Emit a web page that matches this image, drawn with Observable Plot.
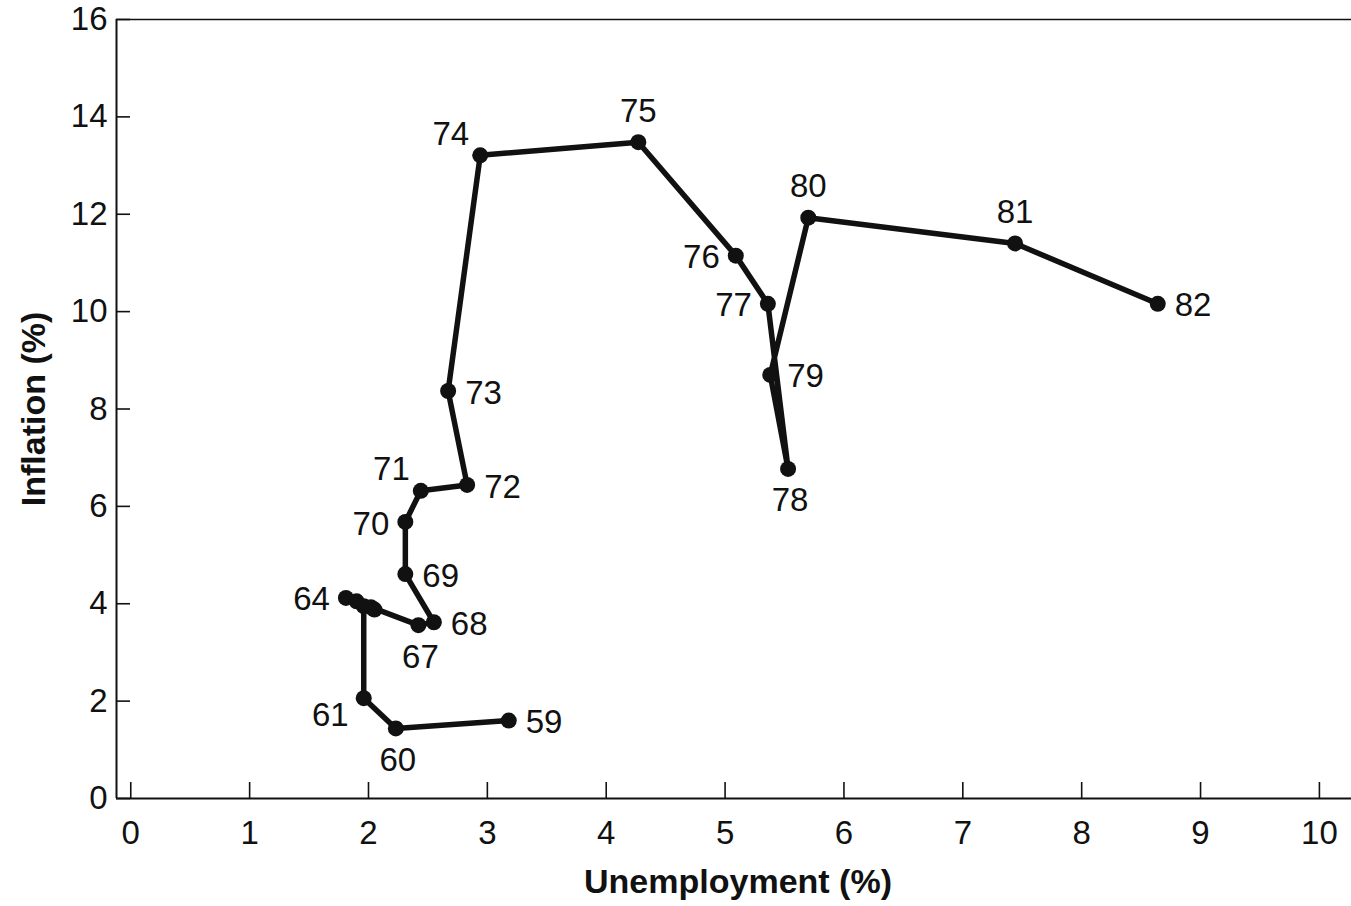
<!DOCTYPE html>
<html><head><meta charset="utf-8">
<script src="https://cdn.jsdelivr.net/npm/d3@7"></script>
<script src="https://cdn.jsdelivr.net/npm/@observablehq/plot@0.6"></script>
<style>body{margin:0;background:#fff} svg{display:block} #chart{width:1351px;height:906px}</style>
</head><body><div id="chart"></div>
<script>
// Years (19xx), unemployment (%) and inflation (%)
const years = [59,60,61,62,63,64,65,66,67,68,69,70,71,72,73,74,75,76,77,78,79,80,81,82];
const unemployment = [3.18,2.23,1.96,1.96,2.05,1.81,1.90,2.02,2.42,2.55,2.31,2.31,2.44,2.83,2.67,2.94,4.27,5.09,5.36,5.53,5.38,5.70,7.44,8.64];
const inflation = [1.60,1.44,2.06,3.95,3.88,4.12,4.05,3.93,3.56,3.62,4.61,5.68,6.32,6.44,8.37,13.21,13.48,11.15,10.16,6.77,8.70,11.93,11.40,10.16];
// which side of the point each year label sits on ("" = no label)
const labelSide = ["r","b","lb","","","l","","","b","r","r","l","lt","r","r","lt","t","l","l","b","r","t","t","r"];
const xTicks = [0,1,2,3,4,5,6,7,8,9,10];
const yTicks = [0,2,4,6,8,10,12,14,16];
const xLabel = "Unemployment (%)";
const yLabel = "Inflation (%)";

const data = years.map((y, i) => ({year: y, label: String(y), u: unemployment[i], inf: inflation[i], side: labelSide[i]}));
const xDomain = [-0.12, 10.27];
const ink = "#111";
const font = "'Liberation Sans', Arial, Helvetica, sans-serif";

const offsets = {r: [17, 2], l: [-16, 2], t: [0, -31], b: [2, 32], lt: [-11, -21], lb: [-15, 17]};
const anchors = {r: "start", l: "end", t: "middle", b: "middle", lt: "end", lb: "end"};
const labelMarks = Object.keys(offsets).map(s =>
  Plot.text(data.filter(d => d.side === s), {
    x: "u", y: "inf", text: "label",
    dx: offsets[s][0], dy: offsets[s][1], textAnchor: anchors[s],
    fontSize: 33, fill: ink
  })
);

const chart = Plot.plot({
  width: 1351,
  height: 906,
  marginLeft: 116,
  marginRight: 0,
  marginTop: 19,
  marginBottom: 108,
  style: {fontFamily: font, background: "#fff", color: ink},
  x: {domain: xDomain, label: null},
  y: {domain: [0, 16], label: null},
  marks: [
    Plot.ruleY([0], {stroke: ink, strokeWidth: 2}),
    Plot.ruleY([16], {stroke: ink, strokeWidth: 1.6}),
    Plot.ruleX([xDomain[0]], {stroke: ink, strokeWidth: 2}),
    Plot.axisX({ticks: xTicks, tickSize: -16, tickPadding: 38, fontSize: 33, label: null, stroke: ink, strokeWidth: 1.6}),
    Plot.axisY({ticks: yTicks, tickSize: -14, tickPadding: 23, fontSize: 33, label: null, stroke: ink, strokeWidth: 1.6}),
    Plot.line(data, {x: "u", y: "inf", stroke: ink, strokeWidth: 5.5, strokeLinejoin: "round", strokeLinecap: "round"}),
    Plot.dot(data, {x: "u", y: "inf", r: 8, fill: ink}),
    ...labelMarks,
    Plot.text([xLabel], {frameAnchor: "bottom", textAnchor: "middle", dx: 4, dy: 94, fontSize: 34, fontWeight: "bold", fill: ink}),
    Plot.text([yLabel], {frameAnchor: "left", textAnchor: "middle", dx: -82, rotate: -90, fontSize: 34, fontWeight: "bold", fill: ink})
  ]
});
document.getElementById("chart").appendChild(chart);
</script>
</body></html>
